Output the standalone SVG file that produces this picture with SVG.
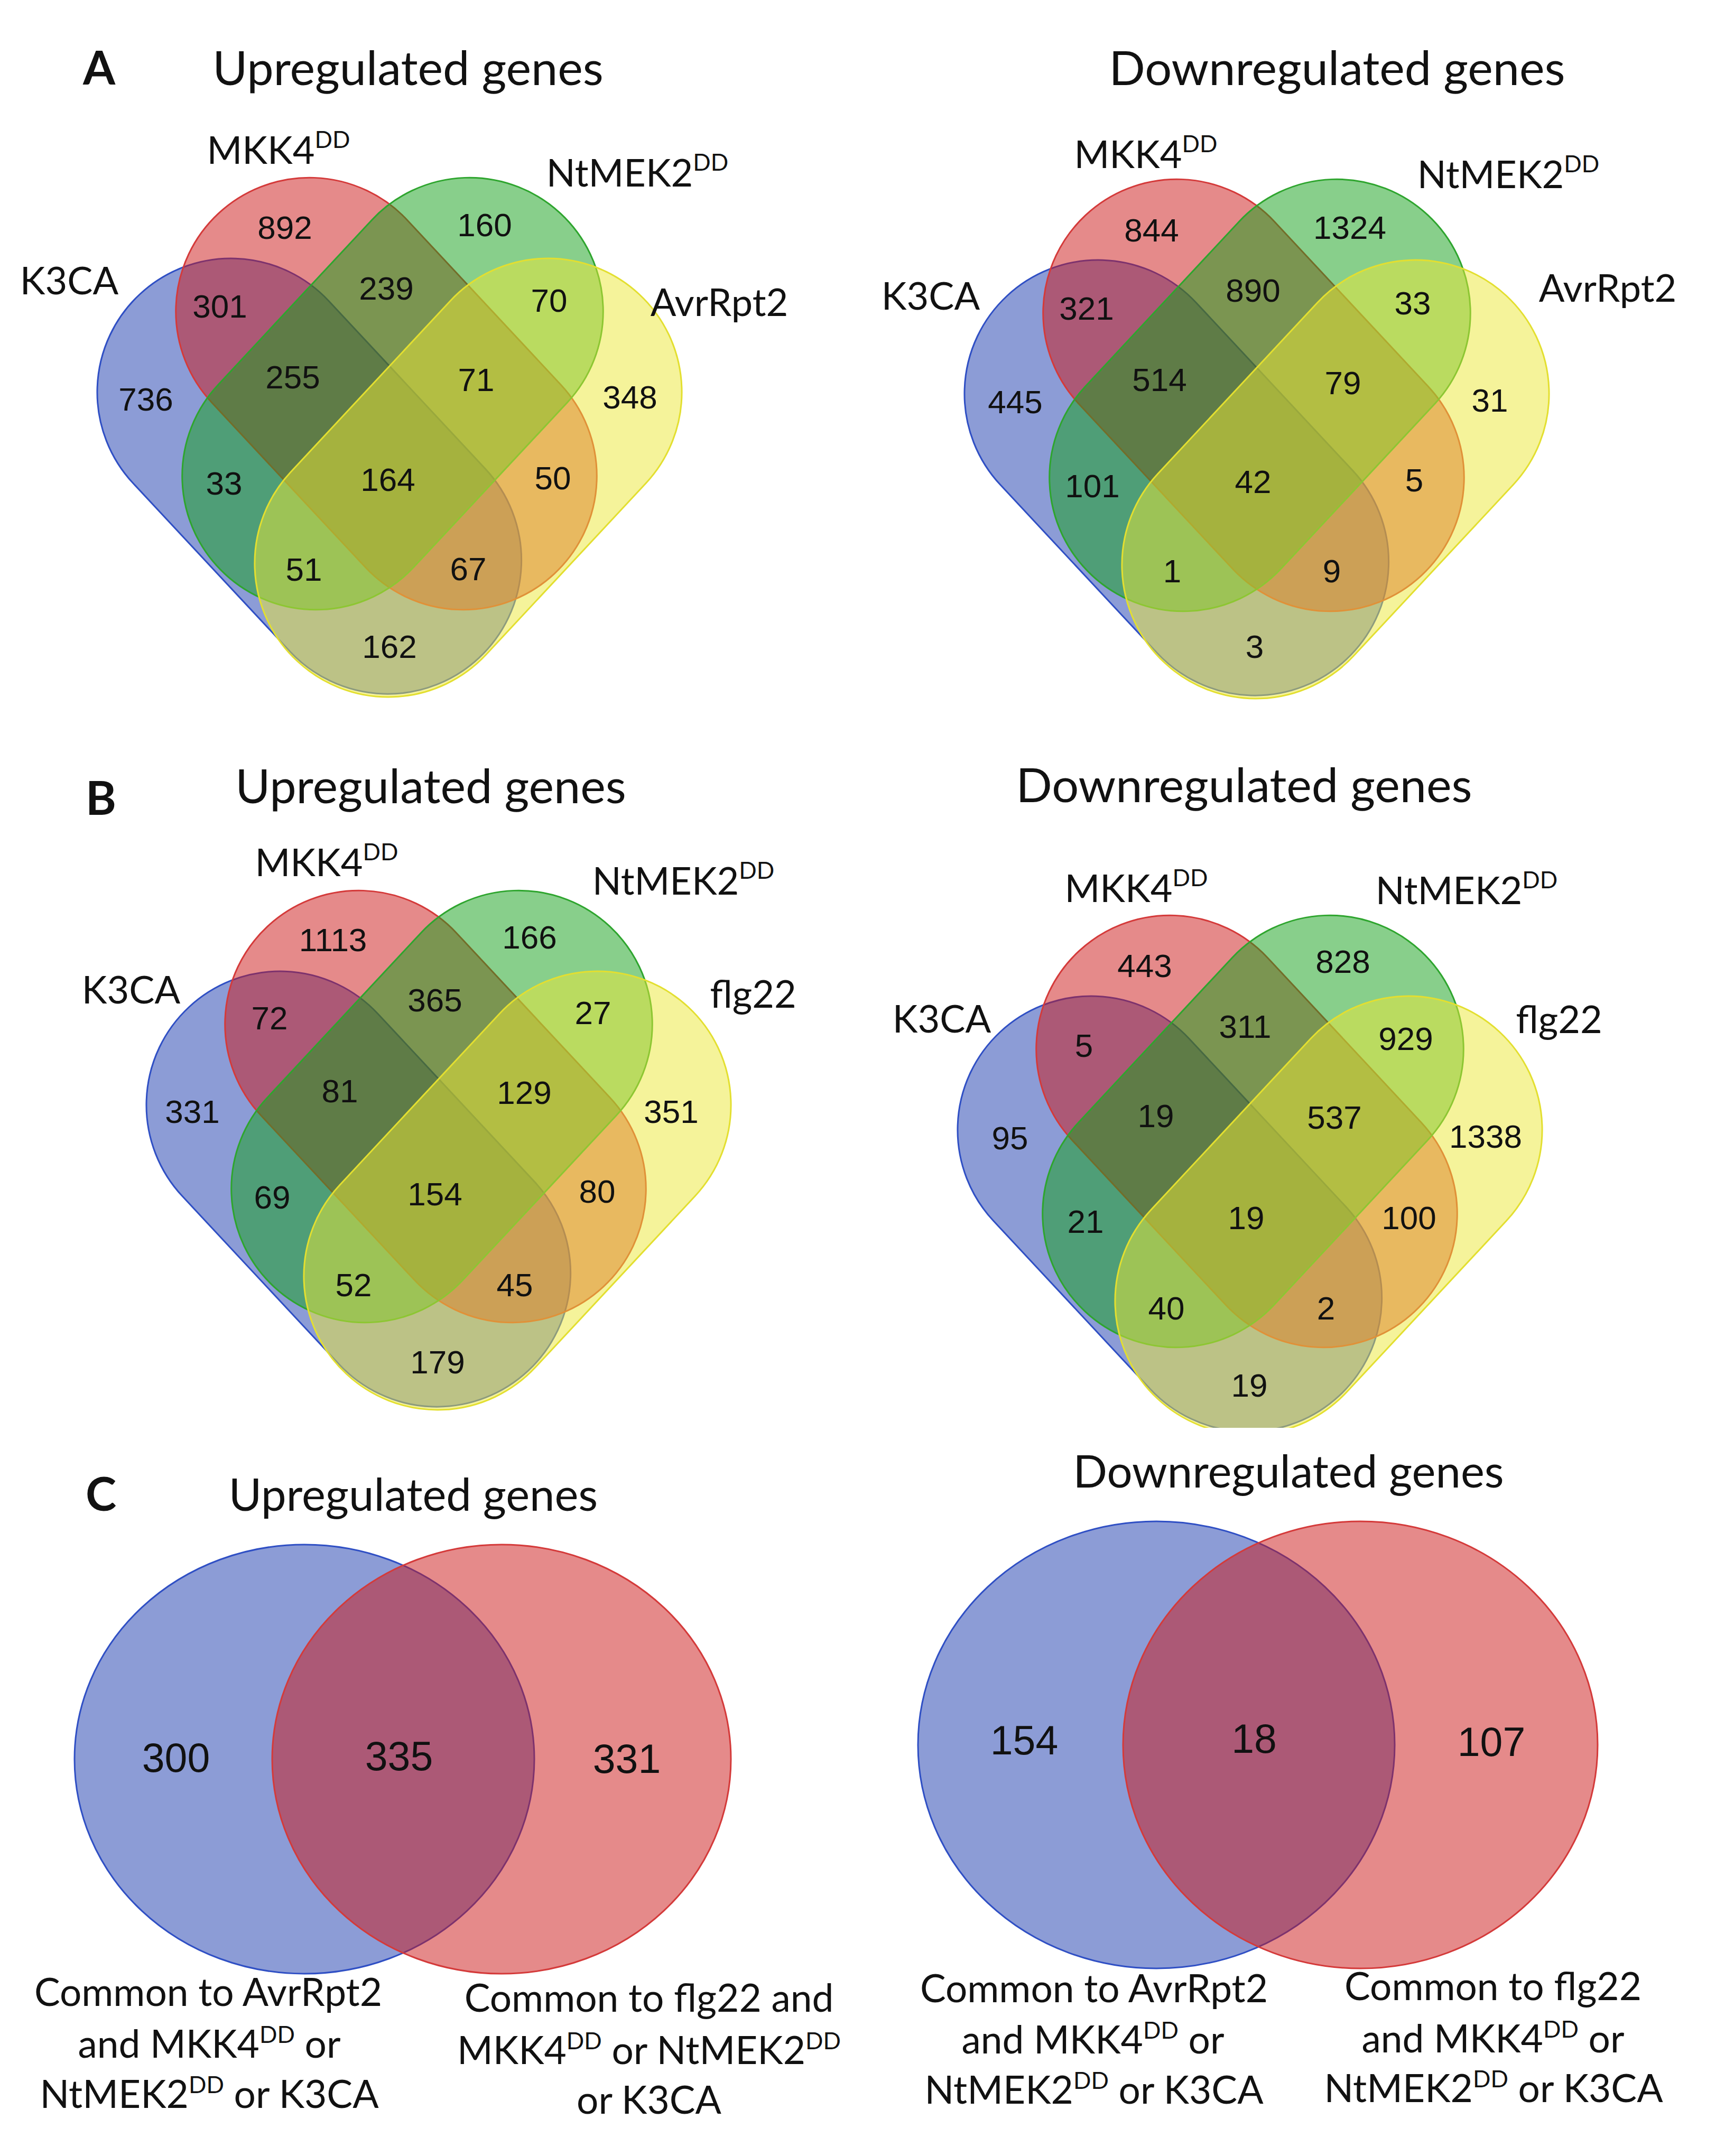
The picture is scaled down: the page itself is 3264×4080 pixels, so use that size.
<svg xmlns="http://www.w3.org/2000/svg" xmlns:xlink="http://www.w3.org/1999/xlink" width="3264" height="4080" viewBox="0 0 3264 4080">
<style>
.sb{fill:#1a3aad;fill-opacity:.5;stroke:#2f4fc4;stroke-width:3}
.sr{fill:#cc1616;fill-opacity:.5;stroke:#d43a3a;stroke-width:3}
.sg{fill:#119f17;fill-opacity:.5;stroke:#2ea52e;stroke-width:3}
.sy{fill:#ebe735;fill-opacity:.5;stroke:#e3df30;stroke-width:3}
.n{font-family:"Liberation Sans",Arial,sans-serif;font-size:62px;text-anchor:middle;fill:#111}
.n2{font-size:77px}
.lb{font-family:Lato,"Open Sans",sans-serif;font-size:72px;text-anchor:middle;fill:#111}
.cap{font-family:Lato,"Open Sans",sans-serif;font-size:73px;text-anchor:middle;fill:#111}
.tt{font-family:Lato,"Open Sans",sans-serif;font-size:90px;text-anchor:middle;fill:#111}
.tt2{font-size:85px}
.pl{font-family:Lato,"Open Sans",sans-serif;font-weight:700;font-size:88px;fill:#111}
.sup{font-size:44px}
</style>
<defs>
<rect id="capB" x="-470.5" y="-253" width="941" height="506" rx="253" ry="253"/>
<rect id="capY" x="-474.5" y="-253" width="949" height="506" rx="253" ry="253"/>
<rect id="capRG" x="-466" y="-253" width="932" height="506" rx="253" ry="253"/>
<g id="quad">
<use xlink:href="#capB" class="sb" transform="translate(-151.7,150.1) rotate(47)"/>
<use xlink:href="#capRG" class="sr" transform="translate(-6,-6) rotate(47)"/>
<use xlink:href="#capRG" class="sg" transform="translate(6,-6) rotate(-47)"/>
<use xlink:href="#capY" class="sy" transform="translate(149,153) rotate(-47)"/>
</g>
<clipPath id="clipBR" clipPathUnits="userSpaceOnUse"><rect x="1600" y="1500" width="1664" height="1202"/></clipPath>
</defs>
<rect width="3264" height="4080" fill="#fff"/>

<!-- Panel A: Upregulated -->
<g id="A-up">
<g transform="translate(737,751)"><use xlink:href="#quad"/></g>
<g id="A-up-numbers" class="n">
<text x="539" y="452">892</text><text x="917" y="447">160</text>
<text x="416" y="601">301</text><text x="731" y="567">239</text><text x="1039" y="590">70</text>
<text x="276" y="777">736</text><text x="554" y="735">255</text><text x="901" y="740">71</text><text x="1192" y="773">348</text>
<text x="424" y="936">33</text><text x="734" y="929">164</text><text x="1046" y="926">50</text>
<text x="575" y="1099">51</text><text x="886" y="1098">67</text><text x="737" y="1245">162</text>
</g>
<g id="A-up-labels">
<text class="lb" x="131" y="557">K3CA</text>
<text class="lb" x="527" y="310">MKK4<tspan class="sup" dy="-30">DD</tspan></text>
<text class="lb" x="1206" y="353">NtMEK2<tspan class="sup" dy="-30">DD</tspan></text>
<text class="lb" x="1361" y="598">AvrRpt2</text>
</g>
<text class="pl" x="157" y="160">A</text>
<text class="tt" x="772" y="161">Upregulated genes</text>
</g>

<!-- Panel A: Downregulated -->
<g id="A-down">
<g transform="translate(2378,754)"><use xlink:href="#quad"/></g>
<g id="A-down-numbers" class="n">
<text x="2179" y="457">844</text><text x="2554" y="452">1324</text>
<text x="2056" y="605">321</text><text x="2371" y="571">890</text><text x="2673" y="595">33</text>
<text x="1921" y="782">445</text><text x="2194" y="740">514</text><text x="2541" y="746">79</text><text x="2819" y="779">31</text>
<text x="2067" y="941">101</text><text x="2371" y="933">42</text><text x="2676" y="930">5</text>
<text x="2218" y="1102">1</text><text x="2520" y="1102">9</text><text x="2374" y="1245">3</text>
</g>
<g id="A-down-labels">
<text class="lb" x="1761" y="586">K3CA</text>
<text class="lb" x="2168" y="318">MKK4<tspan class="sup" dy="-30">DD</tspan></text>
<text class="lb" x="2854" y="356">NtMEK2<tspan class="sup" dy="-30">DD</tspan></text>
<text class="lb" x="3042" y="571">AvrRpt2</text>
</g>
<text class="tt" x="2530" y="161">Downregulated genes</text>
</g>

<!-- Panel B: Upregulated -->
<g id="B-up">
<g transform="translate(830,2100)"><use xlink:href="#quad"/></g>
<g id="B-up-numbers" class="n">
<text x="630" y="1800">1113</text><text x="1002" y="1795">166</text>
<text x="510" y="1948">72</text><text x="823" y="1914">365</text><text x="1122" y="1938">27</text>
<text x="364" y="2125">331</text><text x="643" y="2086">81</text><text x="992" y="2089">129</text><text x="1270" y="2125">351</text>
<text x="515" y="2287">69</text><text x="823" y="2281">154</text><text x="1130" y="2276">80</text>
<text x="669" y="2453">52</text><text x="974" y="2453">45</text><text x="828" y="2599">179</text>
</g>
<g id="B-up-labels">
<text class="lb" x="248" y="1899">K3CA</text>
<text class="lb" x="618" y="1658">MKK4<tspan class="sup" dy="-30">DD</tspan></text>
<text class="lb" x="1293" y="1693">NtMEK2<tspan class="sup" dy="-30">DD</tspan></text>
<text class="lb" x="1425" y="1907">flg22</text>
</g>
<text class="pl" x="162" y="1542">B</text>
<text class="tt" x="815" y="1520">Upregulated genes</text>
</g>

<!-- Panel B: Downregulated -->
<g id="B-down">
<g clip-path="url(#clipBR)"><g transform="translate(2365,2147)"><use xlink:href="#quad"/></g></g>
<g id="B-down-numbers" class="n">
<text x="2166" y="1849">443</text><text x="2541" y="1841">828</text>
<text x="2051" y="2000">5</text><text x="2356" y="1964">311</text><text x="2660" y="1987">929</text>
<text x="1911" y="2175">95</text><text x="2187" y="2133">19</text><text x="2525" y="2136">537</text><text x="2811" y="2172">1338</text>
<text x="2054" y="2333">21</text><text x="2358" y="2326">19</text><text x="2666" y="2326">100</text>
<text x="2207" y="2497">40</text><text x="2509" y="2497">2</text><text x="2364" y="2643">19</text>
</g>
<g id="B-down-labels">
<text class="lb" x="1782" y="1954">K3CA</text>
<text class="lb" x="2150" y="1707">MKK4<tspan class="sup" dy="-30">DD</tspan></text>
<text class="lb" x="2775" y="1711">NtMEK2<tspan class="sup" dy="-30">DD</tspan></text>
<text class="lb" x="2950" y="1955">flg22</text>
</g>
<text class="tt" x="2354" y="1518">Downregulated genes</text>
</g>

<!-- Panel C: Upregulated -->
<g id="C-up">
<ellipse class="sb" cx="576" cy="3329" rx="435" ry="406"/>
<ellipse class="sr" cx="949" cy="3329" rx="434" ry="406"/>
<g class="n n2">
<text x="333" y="3353">300</text><text x="755" y="3350">335</text><text x="1186" y="3355">331</text>
</g>
<g id="C-up-captions" class="cap">
<text x="394" y="3796">Common to AvrRpt2</text>
<text x="396" y="3894">and MKK4<tspan class="sup" dy="-28">DD</tspan><tspan dy="28"> or</tspan></text>
<text x="396" y="3989">NtMEK2<tspan class="sup" dy="-28">DD</tspan><tspan dy="28"> or K3CA</tspan></text>
<text x="1228" y="3807">Common to flg22 and</text>
<text x="1228" y="3906">MKK4<tspan class="sup" dy="-28">DD</tspan><tspan dy="28"> or NtMEK2</tspan><tspan class="sup" dy="-28">DD</tspan></text>
<text x="1228" y="4000">or K3CA</text>
</g>
<text class="pl" x="162" y="2859">C</text>
<text class="tt tt2" x="782" y="2859">Upregulated genes</text>
</g>

<!-- Panel C: Downregulated -->
<g id="C-down">
<ellipse class="sb" cx="2188" cy="3302" rx="451" ry="423"/>
<ellipse class="sr" cx="2574" cy="3302" rx="449" ry="423"/>
<g class="n n2">
<text x="1938" y="3320">154</text><text x="2373" y="3317">18</text><text x="2822" y="3323">107</text>
</g>
<g id="C-down-captions" class="cap">
<text x="2070" y="3789">Common to AvrRpt2</text>
<text x="2068" y="3886">and MKK4<tspan class="sup" dy="-28">DD</tspan><tspan dy="28"> or</tspan></text>
<text x="2070" y="3981">NtMEK2<tspan class="sup" dy="-28">DD</tspan><tspan dy="28"> or K3CA</tspan></text>
<text x="2825" y="3785">Common to flg22</text>
<text x="2825" y="3884">and MKK4<tspan class="sup" dy="-28">DD</tspan><tspan dy="28"> or</tspan></text>
<text x="2826" y="3978">NtMEK2<tspan class="sup" dy="-28">DD</tspan><tspan dy="28"> or K3CA</tspan></text>
</g>
<text class="tt tt2" x="2438" y="2815">Downregulated genes</text>
</g>
</svg>
